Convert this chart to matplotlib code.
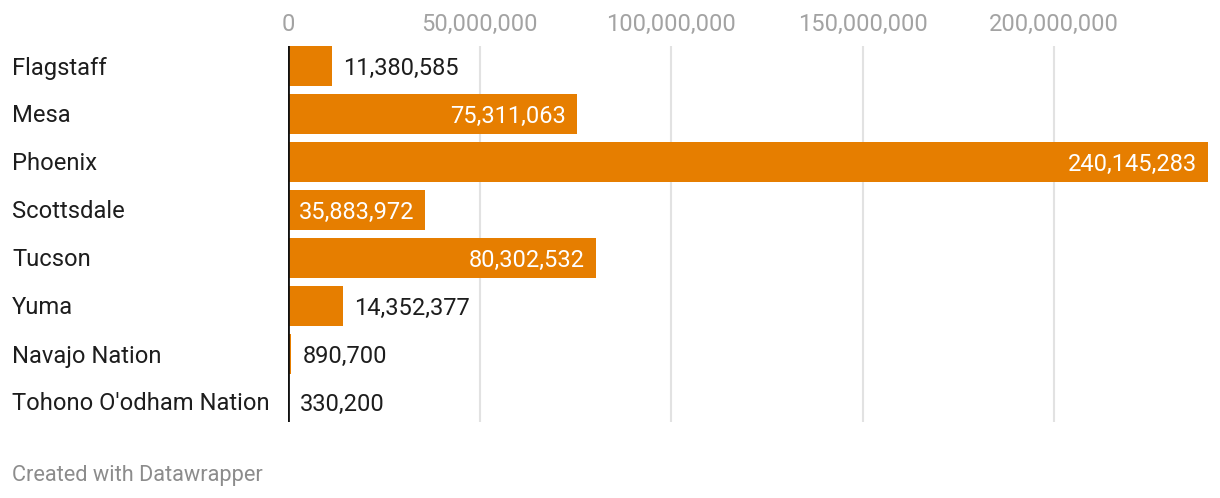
import matplotlib
matplotlib.use("Agg")
import matplotlib.pyplot as plt
import matplotlib.transforms as transforms

cities = ["Flagstaff", "Mesa", "Phoenix", "Scottsdale", "Tucson", "Yuma",
          "Navajo Nation", "Tohono O'odham Nation"]
values = [11380585, 75311063, 240145283, 35883972, 80302532, 14352377,
          890700, 330200]
ticks = [0, 50000000, 100000000, 150000000, 200000000]

plt.rcParams['font.family'] = ['Roboto', 'DejaVu Sans']

W, H = 1220, 498
fig = plt.figure(figsize=(W / 100, H / 100), dpi=100)
# axes box in pixel terms: x 288..1208, y 46..422
ax = fig.add_axes([288 / W, 1 - 422 / H, (1208 - 288) / W, (422 - 46) / H])

bar_color = "#e67e00"
n = len(cities)
ypos = list(range(n))
ax.barh(ypos, values, height=40 / 48, color=bar_color, zorder=2)

ax.set_xlim(0, max(values))
ax.set_ylim(n - 1 + 20 / 48, -20 / 48)

# grid
for t in ticks[1:]:
    ax.axvline(t, color="#e2e2e2", lw=1.5, zorder=1)
ax.axvline(0, color="#111111", lw=2, zorder=3)

ax.xaxis.tick_top()
ax.set_xticks(ticks)
ax.set_xticklabels([f"{t:,}" for t in ticks], color="#a3a3a3", fontsize=17)
ax.tick_params(axis="x", length=0, pad=7)
ax.set_yticks([])
for s in ax.spines.values():
    s.set_visible(False)

# category labels
trans = transforms.blended_transform_factory(fig.transFigure, ax.transData)
for y, c in zip(ypos, cities):
    ax.annotate(c, (12 / W, y), xycoords=trans, xytext=(0, -2),
                textcoords="offset pixels", ha="left", va="center",
                fontsize=17.1, color="#1d1d1d")

# value labels
for y, v in zip(ypos, values):
    label = f"{v:,}"
    if v > 25000000:
        ax.annotate(label, (v, y), xytext=(-11, -2), textcoords="offset pixels",
                    ha="right", va="center", fontsize=17, color="white", zorder=4)
    else:
        ax.annotate(label, (v, y), xytext=(11, -2), textcoords="offset pixels",
                    ha="left", va="center", fontsize=17, color="#1d1d1d", zorder=4)

fig.text(12 / W, 1 - 475 / H, "Created with Datawrapper", ha="left", va="center",
         fontsize=15.7, color="#8c8c8c")

fig.savefig("out.png", dpi=100)
